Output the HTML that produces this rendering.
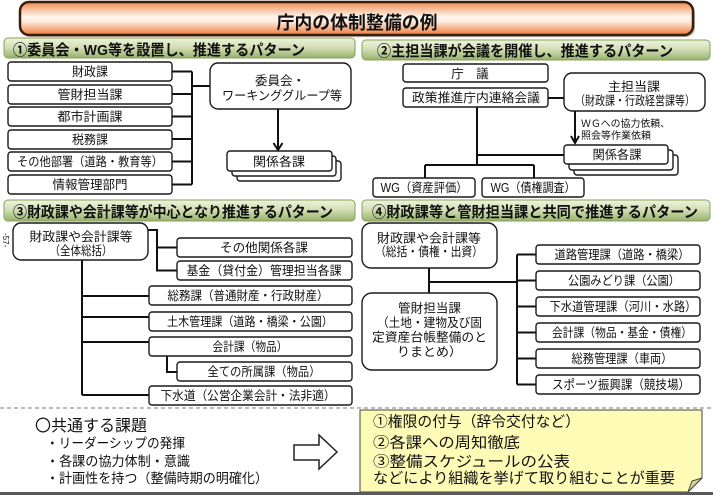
<!DOCTYPE html>
<html><head><meta charset="utf-8"><style>
html,body{margin:0;padding:0;background:#fff;}
svg{display:block;}
text{font-family:"Liberation Sans","Noto Sans CJK JP",sans-serif;fill:#111;}
.b{fill:#fff;stroke:#1a1a1a;stroke-width:1.4;}
.l{stroke:#111;stroke-width:2;fill:none;}
.t{font-size:12.5px;text-anchor:middle;}
.h{font-size:15px;font-weight:bold;}
</style></head><body>
<svg width="713" height="495" viewBox="0 0 713 495" xmlns="http://www.w3.org/2000/svg">
<defs>
<linearGradient id="og" x1="0" y1="0" x2="0" y2="1">
<stop offset="0" stop-color="#ee8a4c"/><stop offset="0.45" stop-color="#fff6ef"/><stop offset="0.6" stop-color="#fdeadc"/><stop offset="1" stop-color="#ef7a3a"/>
</linearGradient>
<linearGradient id="gg" x1="0" y1="0" x2="0" y2="1">
<stop offset="0" stop-color="#eef4de"/><stop offset="0.5" stop-color="#cfdcb0"/><stop offset="1" stop-color="#98b26c"/>
</linearGradient>
</defs>

<!-- Title -->
<rect x="22" y="4" width="673" height="33" rx="9" fill="#8a6a50" opacity="0.5"/>
<rect x="20" y="2" width="673" height="33" rx="9" fill="url(#og)" stroke="#3a1e0c" stroke-width="2.5"/>
<text x="357" y="29" font-size="18" font-weight="bold" text-anchor="middle" textLength="161" lengthAdjust="spacingAndGlyphs">庁内の体制整備の例</text>

<!-- Section headers -->
<rect x="4" y="38" width="351" height="20" rx="4" fill="url(#gg)" stroke="#86a05a" stroke-width="1"/>
<text x="13" y="55" class="h" textLength="292" lengthAdjust="spacingAndGlyphs">①委員会・WG等を設置し、推進するパターン</text>
<rect x="362" y="40" width="348" height="20" rx="4" fill="url(#gg)" stroke="#86a05a" stroke-width="1"/>
<text x="377" y="56" class="h" textLength="296" lengthAdjust="spacingAndGlyphs">②主担当課が会議を開催し、推進するパターン</text>
<rect x="4" y="200" width="351" height="21" rx="4" fill="url(#gg)" stroke="#86a05a" stroke-width="1"/>
<text x="13" y="217" class="h" textLength="320" lengthAdjust="spacingAndGlyphs">③財政課や会計課等が中心となり推進するパターン</text>
<rect x="362" y="200" width="348" height="21" rx="4" fill="url(#gg)" stroke="#86a05a" stroke-width="1"/>
<text x="372" y="217" class="h" textLength="326" lengthAdjust="spacingAndGlyphs">④財政課等と管財担当課と共同で推進するパターン</text>

<!-- Section 1 -->
<path class="l" d="M172 71.5H192 M172 94H192 M172 116.5H192 M172 139H192 M172 161.5H192 M172 184.5H192 M192 71.5V184.5 M192 86H210"/>
<rect class="b" x="8" y="62" width="164" height="19" rx="3"/>
<text class="t" x="90" y="76" textLength="36" lengthAdjust="spacingAndGlyphs">財政課</text>
<rect class="b" x="8" y="85" width="164" height="19" rx="3"/>
<text class="t" x="90" y="99" textLength="65" lengthAdjust="spacingAndGlyphs">管財担当課</text>
<rect class="b" x="8" y="107" width="164" height="19" rx="3"/>
<text class="t" x="90" y="121" textLength="65" lengthAdjust="spacingAndGlyphs">都市計画課</text>
<rect class="b" x="8" y="130" width="164" height="19" rx="3"/>
<text class="t" x="90" y="144" textLength="36" lengthAdjust="spacingAndGlyphs">税務課</text>
<rect class="b" x="8" y="152" width="164" height="19" rx="3"/>
<text class="t" x="90" y="166" textLength="146" lengthAdjust="spacingAndGlyphs">その他部署（道路・教育等）</text>
<rect class="b" x="8" y="175" width="164" height="19" rx="3"/>
<text class="t" x="90" y="189" textLength="75" lengthAdjust="spacingAndGlyphs">情報管理部門</text>

<rect class="b" x="210" y="63" width="141" height="46" rx="8"/>
<text class="t" x="280" y="85">委員会・</text>
<text class="t" x="282" y="100" textLength="120" lengthAdjust="spacingAndGlyphs">ワーキンググループ等</text>
<path class="l" d="M278 109V149"/>
<path class="l" d="M273.5 143L278 150L282.5 143" stroke-width="1.8"/>
<rect class="b" x="237" y="161" width="104" height="20" rx="3"/>
<rect class="b" x="232" y="156" width="104" height="20" rx="3"/>
<rect class="b" x="227" y="151" width="105" height="20" rx="3"/>
<text class="t" x="279" y="166" textLength="52" lengthAdjust="spacingAndGlyphs">関係各課</text>

<!-- Section 2 -->
<path class="l" d="M477 107V165 M477 155H564 M425 165H534 M425 165V178 M534 165V178 M548 98H564"/>
<rect class="b" x="403" y="64" width="145" height="18" rx="3"/>
<text class="t" x="470" y="78">庁　議</text>
<rect class="b" x="403" y="88" width="145" height="19" rx="3"/>
<text class="t" x="476" y="102" textLength="128" lengthAdjust="spacingAndGlyphs">政策推進庁内連絡会議</text>
<rect class="b" x="564" y="73" width="141" height="38" rx="8"/>
<text class="t" x="634" y="91" font-size="13" textLength="52" lengthAdjust="spacingAndGlyphs">主担当課</text>
<text class="t" x="635" y="105" font-size="11" textLength="120" lengthAdjust="spacingAndGlyphs">（財政課・行政経営課等）</text>
<path class="l" d="M575 111V142"/>
<path class="l" d="M571 136L575 143L579 136" stroke-width="1.8"/>
<text x="581" y="127" font-size="10" textLength="89" lengthAdjust="spacingAndGlyphs">ＷＧへの協力依頼、</text>
<text x="581" y="139" font-size="10" textLength="70" lengthAdjust="spacingAndGlyphs">照会等作業依頼</text>
<rect class="b" x="574" y="155" width="104" height="20" rx="3"/>
<rect class="b" x="569" y="150" width="104" height="20" rx="3"/>
<rect class="b" x="564" y="145" width="104" height="19" rx="3"/>
<text class="t" x="617" y="159" textLength="49" lengthAdjust="spacingAndGlyphs">関係各課</text>
<rect class="b" x="373" y="178" width="102" height="19" rx="3"/>
<text class="t" x="424" y="192" textLength="87" lengthAdjust="spacingAndGlyphs">WG（資産評価）</text>
<rect class="b" x="482" y="178" width="102" height="19" rx="3"/>
<text class="t" x="533" y="192" textLength="85" lengthAdjust="spacingAndGlyphs">WG（債権調査）</text>

<!-- Section 3 -->
<text x="0" y="0" font-size="8" transform="translate(3,233) rotate(90)">-57-</text>
<path class="l" d="M148 230H157V270.5H177 M157 247.5H177 M82 260V395 M82 296H149 M82 317H149 M82 342H149 M82 395H149 M167 356V372H177"/>
<rect class="b" x="13" y="223" width="135" height="37" rx="8"/>
<text class="t" x="81" y="241" textLength="103" lengthAdjust="spacingAndGlyphs">財政課や会計課等</text>
<text class="t" x="81" y="255" textLength="63" lengthAdjust="spacingAndGlyphs">（全体総括）</text>
<rect class="b" x="177" y="238" width="175" height="19" rx="3"/>
<text class="t" x="264" y="252" textLength="88" lengthAdjust="spacingAndGlyphs">その他関係各課</text>
<rect class="b" x="177" y="261" width="175" height="19" rx="3"/>
<text class="t" x="264" y="275" textLength="155" lengthAdjust="spacingAndGlyphs">基金（貸付金）管理担当各課</text>
<rect class="b" x="149" y="286" width="203" height="19" rx="3"/>
<text class="t" x="248" y="300" textLength="161" lengthAdjust="spacingAndGlyphs">総務課（普通財産・行政財産）</text>
<rect class="b" x="149" y="312" width="203" height="19" rx="3"/>
<text class="t" x="250" y="326" textLength="166" lengthAdjust="spacingAndGlyphs">土木管理課（道路・橋梁・公園）</text>
<rect class="b" x="149" y="337" width="203" height="19" rx="3"/>
<text class="t" x="250" y="351" textLength="75" lengthAdjust="spacingAndGlyphs">会計課（物品）</text>
<rect class="b" x="177" y="362" width="175" height="19" rx="3"/>
<text class="t" x="264" y="376" textLength="113" lengthAdjust="spacingAndGlyphs">全ての所属課（物品）</text>
<rect class="b" x="149" y="386" width="203" height="19" rx="3"/>
<text class="t" x="248" y="400" textLength="175" lengthAdjust="spacingAndGlyphs">下水道（公営企業会計・法非適）</text>

<!-- Section 4 -->
<path class="l" d="M429 268V293 M429 282H517 M517 254.5V384.5 M517 254.5H536 M517 280.5H536 M517 306.5H536 M517 332.5H536 M517 358.5H536 M517 384.5H536"/>
<rect class="b" x="362" y="223" width="135" height="45" rx="9"/>
<text class="t" x="429" y="242.5" textLength="104" lengthAdjust="spacingAndGlyphs">財政課や会計課等</text>
<text class="t" x="429" y="256" textLength="108" lengthAdjust="spacingAndGlyphs">（総括・債権・出資）</text>
<rect class="b" x="362" y="293" width="135" height="77" rx="10"/>
<text class="t" x="429.5" y="312.5" textLength="63" lengthAdjust="spacingAndGlyphs">管財担当課</text>
<text class="t" x="429.5" y="327" textLength="105" lengthAdjust="spacingAndGlyphs">（土地・建物及び固</text>
<text class="t" x="429.5" y="341.5" textLength="115" lengthAdjust="spacingAndGlyphs">定資産台帳整備のと</text>
<text class="t" x="429.5" y="356" textLength="65" lengthAdjust="spacingAndGlyphs">りまとめ）</text>
<rect class="b" x="536" y="245" width="164" height="19" rx="3"/>
<text class="t" x="622" y="259" textLength="135" lengthAdjust="spacingAndGlyphs">道路管理課（道路・橋梁）</text>
<rect class="b" x="536" y="271" width="164" height="19" rx="3"/>
<text class="t" x="624" y="285" textLength="112" lengthAdjust="spacingAndGlyphs">公園みどり課（公園）</text>
<rect class="b" x="536" y="297" width="164" height="19" rx="3"/>
<text class="t" x="623" y="311" textLength="147" lengthAdjust="spacingAndGlyphs">下水道管理課（河川・水路）</text>
<rect class="b" x="536" y="323" width="164" height="19" rx="3"/>
<text class="t" x="622" y="337" textLength="140" lengthAdjust="spacingAndGlyphs">会計課（物品・基金・債権）</text>
<rect class="b" x="536" y="349" width="164" height="19" rx="3"/>
<text class="t" x="622" y="363" textLength="101" lengthAdjust="spacingAndGlyphs">総務管理課（車両）</text>
<rect class="b" x="536" y="375" width="164" height="19" rx="3"/>
<text class="t" x="621" y="389" textLength="138" lengthAdjust="spacingAndGlyphs">スポーツ振興課（競技場）</text>

<!-- Bottom -->
<line x1="0" y1="408" x2="713" y2="408" stroke="#777" stroke-width="1" stroke-dasharray="4,3"/>
<text x="35" y="431" font-size="16" style="font-family:'Noto Sans CJK JP',sans-serif" textLength="112" lengthAdjust="spacingAndGlyphs">〇共通する課題</text>
<text x="46" y="448" font-size="13.5" textLength="139" lengthAdjust="spacingAndGlyphs">・リーダーシップの発揮</text>
<text x="46" y="466" font-size="13.5" textLength="144" lengthAdjust="spacingAndGlyphs">・各課の協力体制・意識</text>
<text x="46" y="483" font-size="13.5" textLength="222" lengthAdjust="spacingAndGlyphs">・計画性を持つ（整備時期の明確化）</text>
<polygon points="294,445 319,445 319,435 337,452 319,469 319,460 294,460" fill="#fff" stroke="#222" stroke-width="1.5"/>

<path d="M360 410H702V478L688 492H360Z" fill="#fefbb6" stroke="#444" stroke-width="1"/>
<path d="M688 492L692 481L702 478Z" fill="#d8d49a" stroke="#444" stroke-width="1"/>
<text x="373" y="426.5" font-size="15" textLength="207" lengthAdjust="spacingAndGlyphs">①権限の付与（辞令交付など）</text>
<text x="373" y="447.5" font-size="15" textLength="147" lengthAdjust="spacingAndGlyphs">②各課への周知徹底</text>
<text x="373" y="466.5" font-size="15" textLength="197" lengthAdjust="spacingAndGlyphs">③整備スケジュールの公表</text>
<text x="373" y="483" font-size="15" textLength="302" lengthAdjust="spacingAndGlyphs">などにより組織を挙げて取り組むことが重要</text>
<rect x="0" y="492" width="713" height="3" fill="#5a5a5a"/>
</svg>
</body></html>
